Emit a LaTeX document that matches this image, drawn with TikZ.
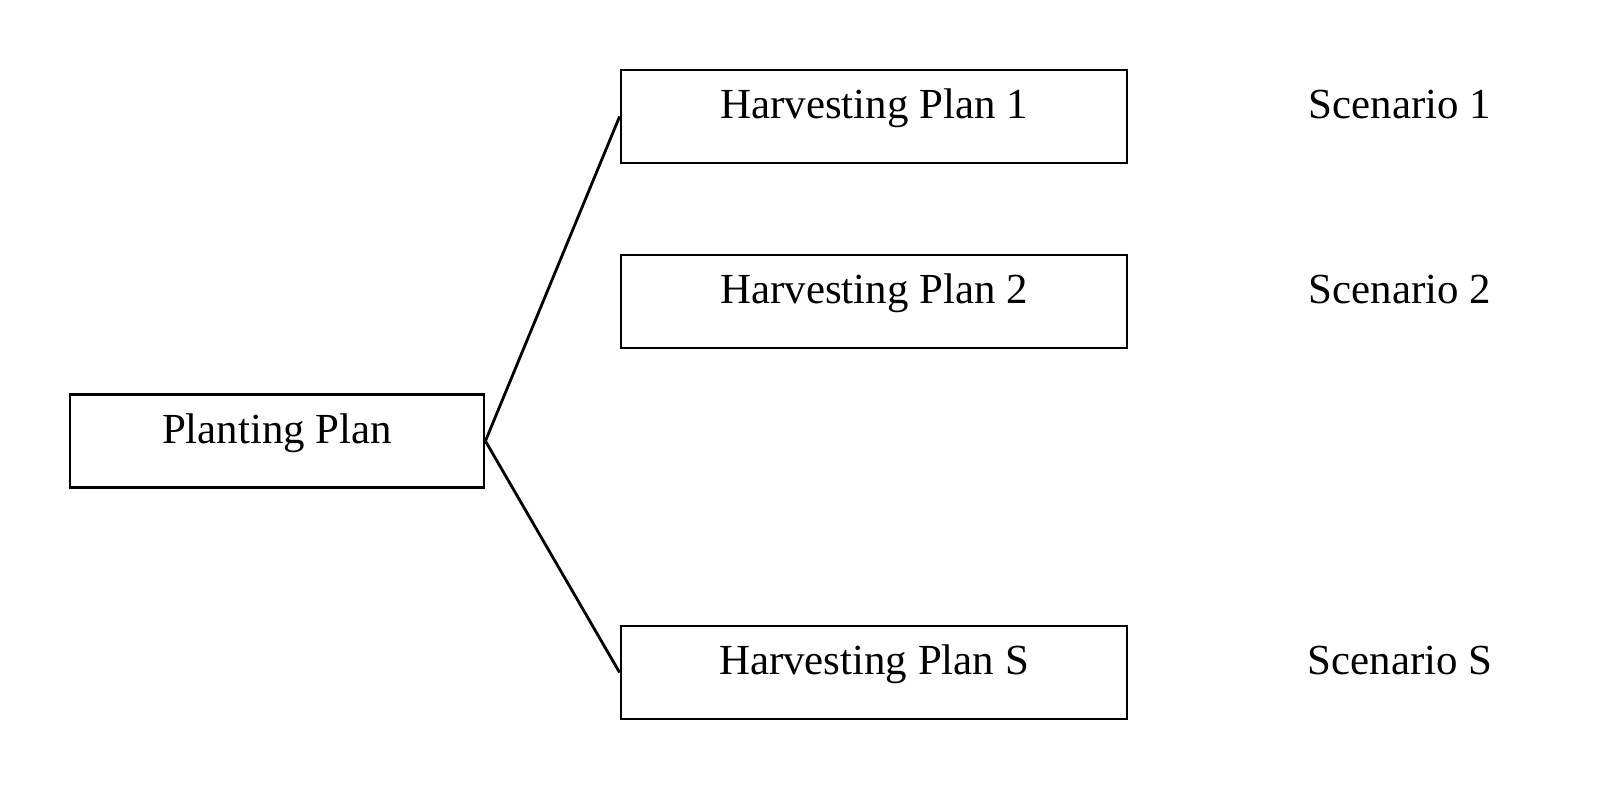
\documentclass[tikz,border=0pt]{standalone}
\usepackage{fontspec}
\setmainfont{Liberation Serif}
\usepackage{tikz}
\usetikzlibrary{positioning}

\begin{document}
\begin{tikzpicture}[
  font=\fontsize{12.2}{15}\selectfont,
  plan/.style={rectangle, draw=black, line width=0.8pt,
              minimum width=4.14cm, minimum height=0.93cm,
              text height=0.36cm, text depth=0.32cm, inner sep=0pt},
  hplan/.style={plan, minimum width=5.06cm},
  scen/.style={anchor=base, inner sep=0pt},
  link/.style={line width=0.8pt}
]
\useasboundingbox (0,0) rectangle (16.15,7.90);

% ── Left: planting decision ──
\node[plan] (pp) at (2.77,3.49) {Planting Plan};

% ── Middle: harvesting plans ──
\node[hplan] (hp1) at (8.74,6.735) {Harvesting Plan 1};
\node[hplan] (hp2) at (8.74,4.885) {Harvesting Plan 2};
\node[hplan] (hpS) at (8.74,1.175) {Harvesting Plan S};

% ── Right: scenario labels on the same baselines ──
\node[scen] (sc1) at (14.00,6.72) {Scenario 1};
\node[scen] (sc2) at (14.00,4.87) {Scenario 2};
\node[scen] (scS) at (14.00,1.16) {Scenario S};

% ── Links ──
\draw[link] (pp.east) -- (hp1.west);
\draw[link] (pp.east) -- (hpS.west);

\end{tikzpicture}
\end{document}
